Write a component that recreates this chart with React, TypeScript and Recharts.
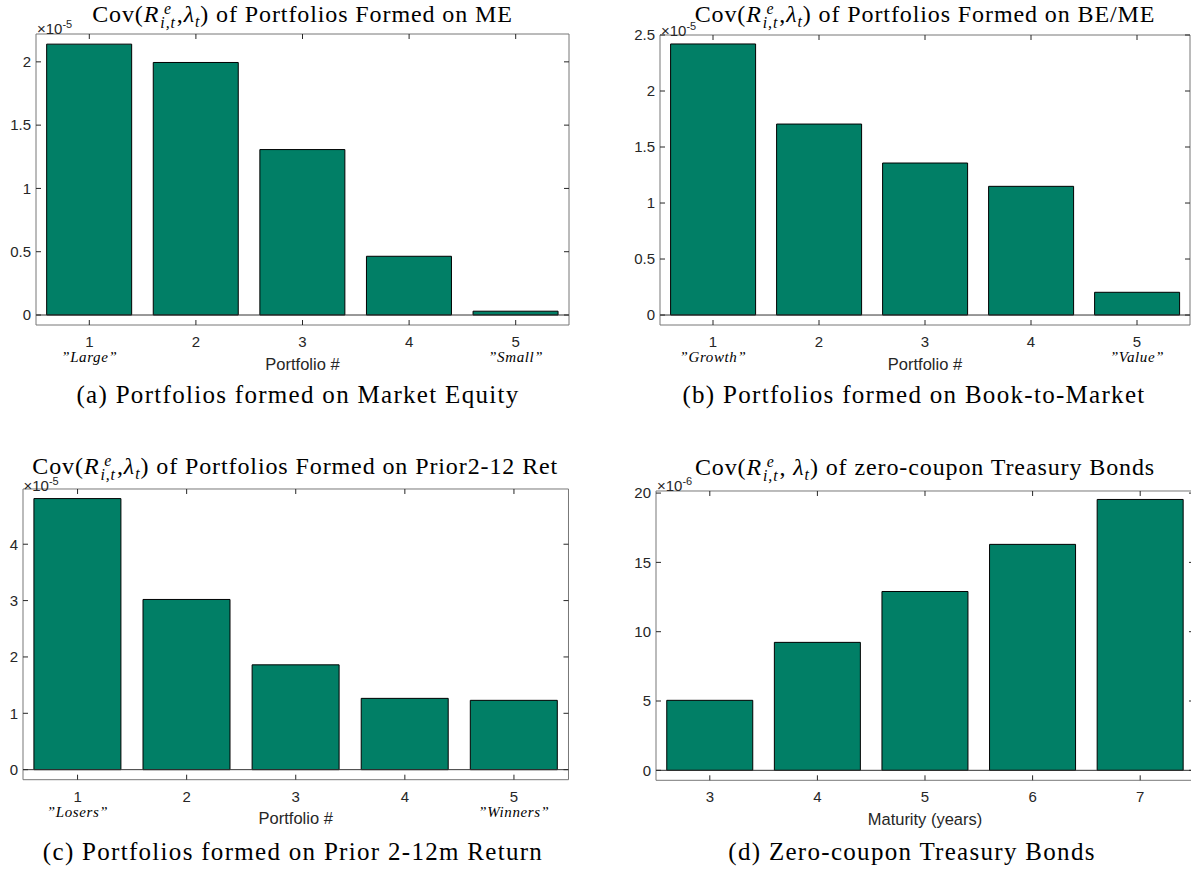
import React from "react";
import { BarChart, Bar, XAxis, YAxis, ReferenceLine } from "recharts";

// categories
const portfolioCats = ["1", "2", "3", "4", "5"];
const maturityCats = ["3", "4", "5", "6", "7"];

// covariances, in units of the axis exponent (1e-5 or 1e-6)
const meCov = [2.14, 1.995, 1.307, 0.464, 0.03];
const bmCov = [2.42, 1.705, 1.357, 1.149, 0.203];
const momCov = [4.81, 3.02, 1.86, 1.265, 1.23];
const bondCov = [5.05, 9.23, 12.9, 16.3, 19.54];

// italic notes under first/last tick
const meNotes = ["Large", "", "", "", "Small"];
const bmNotes = ["Growth", "", "", "", "Value"];
const momNotes = ["Losers", "", "", "", "Winners"];
const bondNotes = ["", "", "", "", ""];

// y ticks
const meTicks = [0, 0.5, 1, 1.5, 2];
const bmTicks = [0, 0.5, 1, 1.5, 2, 2.5];
const momTicks = [0, 1, 2, 3, 4];
const bondTicks = [0, 5, 10, 15, 20];

const SANS = "'Liberation Sans', Arial, Helvetica, sans-serif";
const SERIF = "'Liberation Serif', 'Times New Roman', serif";
const INK = "#262626";
const BOX = "#777777";
const BAR = "#017f66";

const PAD_L = 60;
const PAD_T = 10;
const PAD_R = 10;
const PAD_B = 60;

type Box = { left: number; top: number; right: number; bottom: number };

const NoLabel = () => <g />;

const XTick = (props: any) => {
  const { x, y, payload, index, notes } = props;
  const note = notes[index];
  return (
    <g transform={`translate(${x},${y})`}>
      <text textAnchor="middle" y={22} fill={INK} fontSize={15} fontFamily={SANS}>
        {payload.value}
      </text>
      {note ? (
        <text
          textAnchor="middle"
          y={37}
          fill="#000"
          fontSize={15}
          fontStyle="italic"
          fontFamily={SERIF}
          letterSpacing={0.6}
        >
          {`\u201D${note}\u201D`}
        </text>
      ) : null}
    </g>
  );
};

const Scripts = ({ sup, sub }: { sup: string; sub: string }) => (
  <span
    style={{
      display: "inline-flex",
      flexDirection: "column",
      fontSize: "0.66em",
      lineHeight: 0.92,
      verticalAlign: "0.52em",
      fontStyle: "italic",
      margin: "0 1px",
    }}
  >
    <span>{sup}</span>
    <span>{sub}</span>
  </span>
);

const CovTitle = ({ spaced, rest }: { spaced?: boolean; rest: string }) => (
  <span>
    Cov(<i>R</i>
    <Scripts sup="e" sub="i,t" />,{spaced ? " " : ""}
    <i>λ</i>
    <span style={{ fontSize: "0.66em", fontStyle: "italic", verticalAlign: "-0.3em" }}>t</span>) {rest}
  </span>
);

type PanelProps = {
  box: Box;
  cats: string[];
  values: number[];
  notes: string[];
  yTicks: number[];
  yDomain: [number, number];
  xLabel: string;
  exponent: string;
  title: React.ReactNode;
  titleY: number;
  expY: number;
  caption: string;
  captionX: number;
  captionY: number;
};

const Panel = (p: PanelProps) => {
  const { box } = p;
  const w = box.right - box.left;
  const h = box.bottom - box.top;
  const data = p.cats.map((c, i) => ({ cat: c, value: p.values[i] }));
  const cx = (box.left + box.right) / 2;
  return (
    <>
      <div style={{ position: "absolute", left: box.left - PAD_L, top: box.top - PAD_T }}>
        <BarChart
          width={w + PAD_L + PAD_R}
          height={h + PAD_T + PAD_B}
          data={data}
          margin={{ top: PAD_T, right: PAD_R, bottom: 0, left: 0 }}
          barCategoryGap="10%"
        >
          <XAxis
            xAxisId="b"
            dataKey="cat"
            height={PAD_B}
            interval={0}
            tickLine={false}
            tickSize={0}
            tickMargin={0}
            axisLine={{ stroke: BOX }}
            tick={<XTick notes={p.notes} />}
            label={{
              value: p.xLabel,
              position: "insideTop",
              offset: 33,
              fill: INK,
              fontSize: 16.5,
              fontFamily: SANS,
            }}
          />
          <XAxis
            xAxisId="bi"
            dataKey="cat"
            mirror
            interval={0}
            tick={NoLabel}
            tickSize={5}
            tickLine={{ stroke: INK }}
            axisLine={false}
          />
          <XAxis
            xAxisId="t"
            dataKey="cat"
            orientation="top"
            mirror
            interval={0}
            tick={NoLabel}
            tickSize={5}
            tickLine={{ stroke: INK }}
            axisLine={{ stroke: BOX }}
          />
          <YAxis
            yAxisId="l"
            type="number"
            width={PAD_L}
            domain={p.yDomain}
            ticks={p.yTicks}
            allowDataOverflow
            tickLine={false}
            tickSize={0}
            tickMargin={5}
            axisLine={{ stroke: BOX }}
            tick={{ fill: INK, fontSize: 15, fontFamily: SANS }}
          />
          <YAxis
            yAxisId="li"
            type="number"
            mirror
            domain={p.yDomain}
            ticks={p.yTicks}
            allowDataOverflow
            tick={NoLabel}
            tickSize={5}
            tickLine={{ stroke: INK }}
            axisLine={false}
          />
          <YAxis
            yAxisId="r"
            type="number"
            orientation="right"
            mirror
            domain={p.yDomain}
            ticks={p.yTicks}
            allowDataOverflow
            tick={NoLabel}
            tickSize={5}
            tickLine={{ stroke: INK }}
            axisLine={{ stroke: BOX }}
          />
          <ReferenceLine xAxisId="b" yAxisId="l" y={0} stroke="#333333" strokeWidth={1} />
          <Bar
            xAxisId="b"
            yAxisId="l"
            dataKey="value"
            fill={BAR}
            stroke="#000"
            strokeWidth={1}
            isAnimationActive={false}
          />
        </BarChart>
      </div>
      <div
        style={{
          position: "absolute",
          left: cx - 400,
          width: 800,
          top: p.titleY - 14,
          height: 28,
          lineHeight: "28px",
          textAlign: "center",
          fontFamily: SERIF,
          fontSize: 24,
          letterSpacing: 0.9,
          color: "#000",
          whiteSpace: "nowrap",
        }}
      >
        {p.title}
      </div>
      <div
        style={{
          position: "absolute",
          left: box.left + 1,
          top: p.expY - 9,
          height: 18,
          lineHeight: "18px",
          fontFamily: SANS,
          fontSize: 15,
          color: INK,
          whiteSpace: "nowrap",
        }}
      >
        ×10<span style={{ fontSize: 11, verticalAlign: "6px" }}>{p.exponent}</span>
      </div>
      <div
        style={{
          position: "absolute",
          left: p.captionX - 400,
          width: 800,
          top: p.captionY - 15,
          height: 30,
          lineHeight: "30px",
          textAlign: "center",
          fontFamily: SERIF,
          fontSize: 25,
          letterSpacing: 1.3,
          color: "#000",
          whiteSpace: "nowrap",
        }}
      >
        {p.caption}
      </div>
    </>
  );
};

export default function App() {
  return (
    <div
      style={{
        position: "absolute",
        left: 0,
        top: 0,
        width: 1191,
        height: 869,
        overflow: "hidden",
        background: "#fff",
      }}
    >
      <Panel
        box={{ left: 36, top: 33.5, right: 569, bottom: 324.5 }}
        cats={portfolioCats}
        values={meCov}
        notes={meNotes}
        yTicks={meTicks}
        yDomain={[-0.079, 2.22]}
        xLabel="Portfolio #"
        exponent="-5"
        title={<CovTitle rest="of Portfolios Formed on ME" />}
        titleY={14}
        expY={24}
        caption="(a) Portfolios formed on Market Equity"
        captionX={298}
        captionY={395}
      />
      <Panel
        box={{ left: 660, top: 34.7, right: 1190, bottom: 324.7 }}
        cats={portfolioCats}
        values={bmCov}
        notes={bmNotes}
        yTicks={bmTicks}
        yDomain={[-0.089, 2.5]}
        xLabel="Portfolio #"
        exponent="-5"
        title={<CovTitle rest="of Portfolios Formed on BE/ME" />}
        titleY={14}
        expY={26}
        caption="(b) Portfolios formed on Book-to-Market"
        captionX={914}
        captionY={395}
      />
      <Panel
        box={{ left: 22.5, top: 489.3, right: 568, bottom: 780 }}
        cats={portfolioCats}
        values={momCov}
        notes={momNotes}
        yTicks={momTicks}
        yDomain={[-0.178, 4.98]}
        xLabel="Portfolio #"
        exponent="-5"
        title={<CovTitle rest="of Portfolios Formed on Prior2-12 Ret" />}
        titleY={466}
        expY={481}
        caption="(c) Portfolios formed on Prior 2-12m Return"
        captionX={293}
        captionY={852}
      />
      <Panel
        box={{ left: 656, top: 490.7, right: 1194, bottom: 780 }}
        cats={maturityCats}
        values={bondCov}
        notes={bondNotes}
        yTicks={bondTicks}
        yDomain={[-0.72, 20.15]}
        xLabel="Maturity (years)"
        exponent="-6"
        title={<CovTitle spaced rest="of zero-coupon Treasury Bonds" />}
        titleY={467}
        expY={481}
        caption="(d) Zero-coupon Treasury Bonds"
        captionX={912}
        captionY={852}
      />
    </div>
  );
}
